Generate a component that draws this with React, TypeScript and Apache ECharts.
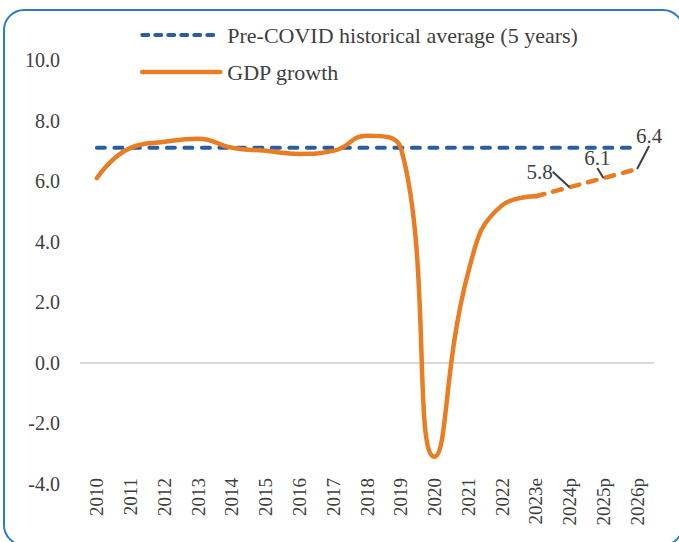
import React, { useEffect, useRef } from "react";
import * as echarts from "echarts";

const years = ["2010", "2011", "2012", "2013", "2014", "2015", "2016", "2017", "2018", "2019", "2020", "2021", "2022", "2023e", "2024p", "2025p", "2026p"];
const gdpActual: (number | null)[] = [6.1, 7.1, 7.3, 7.4, 7.1, 7.0, 6.9, 7.0, 7.5, 7.1, -3.1, 3.0, 5.2, 5.5, null, null, null];
const gdpProjection: (number | null)[] = [null, null, null, null, null, null, null, null, null, null, null, null, null, 5.5, 5.8, 6.1, 6.4];
const preCovidAvg: number[] = [7.1, 7.1, 7.1, 7.1, 7.1, 7.1, 7.1, 7.1, 7.1, 7.1, 7.1, 7.1, 7.1, 7.1, 7.1, 7.1, 7.1];
const labelledIndices = [14, 15, 16];
const labelOffsets: Record<number, [number, number]> = { 14: [-30, 0], 15: [-6, -5], 16: [12, -18] };

const FONT = "'Liberation Serif', 'Times New Roman', serif";
const TEXT = "#404040";
const ORANGE = "#E87D24";
const BLUE = "#2A5F9E";

export default function App() {
  const ref = useRef<HTMLDivElement>(null);
  useEffect(() => {
    document.body.style.margin = "0";
    const chart = echarts.init(ref.current!, null, { renderer: "svg" });
    chart.setOption({
      animation: false,
      backgroundColor: "#ffffff",
      textStyle: { fontFamily: FONT, color: TEXT },
      graphic: [
        {
          type: "rect",
          shape: { x: 4, y: 10, width: 679, height: 535, r: 20 },
          style: { fill: "none", stroke: "#2E7BC4", lineWidth: 2 },
          silent: true,
          z: 0,
        },
      ],
      legend: {
        orient: "vertical",
        left: 135,
        top: 17,
        itemWidth: 78,
        itemHeight: 14,
        itemGap: 11,
        itemStyle: { opacity: 0 },
        data: [
          {
            name: "Pre-COVID historical average (5 years)",
            lineStyle: { color: BLUE, width: 4, type: [6, 7], cap: "round" },
          },
          {
            name: "GDP growth",
            lineStyle: { color: ORANGE, width: 4.5, type: "solid", cap: "round" },
          },
        ],
        textStyle: { fontFamily: FONT, fontSize: 22, color: TEXT, lineHeight: 26, padding: [0, 0, 0, 2] },
      },
      grid: { left: 80, right: 25, top: 60, bottom: 58, containLabel: false },
      xAxis: {
        type: "category",
        data: years,
        boundaryGap: true,
        axisLine: { show: false },
        axisTick: { show: false },
        axisLabel: { rotate: 90, margin: -6, fontSize: 19, fontFamily: FONT, color: TEXT, interval: 0 },
      },
      yAxis: {
        type: "value",
        min: -4,
        max: 10,
        interval: 2,
        axisLine: { show: false },
        axisTick: { show: false },
        splitLine: { show: false },
        axisLabel: { margin: 20, fontSize: 20, fontFamily: FONT, color: TEXT, formatter: (v: number) => v.toFixed(1) },
      },
      series: [
        {
          name: "Pre-COVID historical average (5 years)",
          type: "line",
          data: preCovidAvg,
          symbol: "none",
          z: 2,
          lineStyle: { color: BLUE, width: 4, type: [8, 9.5], cap: "round" },
          itemStyle: { color: BLUE },
          markLine: {
            silent: true,
            symbol: "none",
            z: 1,
            label: { show: false },
            lineStyle: { color: "#D9D9D9", width: 2, type: "solid" },
            data: [{ yAxis: 0 }],
          },
        },
        {
          name: "GDP growth",
          type: "line",
          data: gdpActual,
          symbol: "none",
          smooth: 0.5,
          connectNulls: false,
          z: 3,
          lineStyle: { color: ORANGE, width: 4.5, cap: "round", join: "round" },
          itemStyle: { color: ORANGE },
        },
        {
          name: "GDP projection",
          type: "line",
          data: gdpProjection.map((v, i) =>
            labelledIndices.includes(i)
              ? { value: v, label: { show: true }, labelLine: { show: true } }
              : { value: v, label: { show: false }, labelLine: { show: false } }
          ),
          symbol: "circle",
          symbolSize: 0.01,
          showSymbol: true,
          smooth: 0.5,
          z: 3,
          lineStyle: { color: ORANGE, width: 4.5, type: [9, 9], cap: "round" },
          itemStyle: { color: ORANGE },
          label: {
            show: false,
            position: "top",
            distance: 5,
            fontSize: 21,
            fontFamily: FONT,
            color: TEXT,
            formatter: (p: any) => Number(p.value).toFixed(1),
          },
          labelLine: { show: true, lineStyle: { color: "#404040", width: 2 } },
          labelLayout: (params: any) => {
            const off = labelOffsets[params.dataIndex];
            return off ? { dx: off[0], dy: off[1] } : {};
          },
        },
      ],
    });
    return () => chart.dispose();
  }, []);
  return <div ref={ref} style={{ width: 679, height: 542 }} />;
}
